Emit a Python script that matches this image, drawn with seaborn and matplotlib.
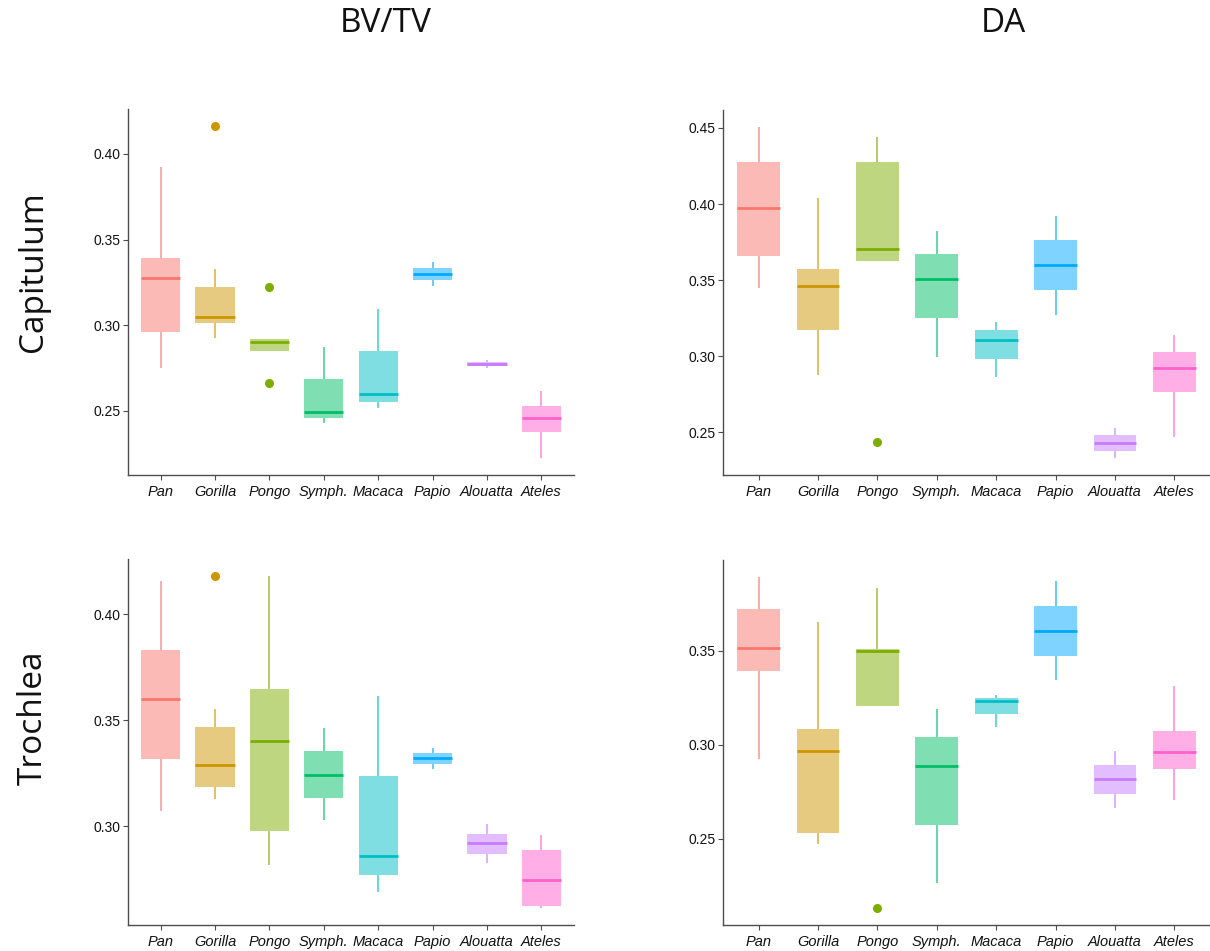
import numpy as np
import pandas as pd
import seaborn as sns
import matplotlib.pyplot as plt
from matplotlib.ticker import MultipleLocator, FormatStrFormatter
from matplotlib.colors import to_rgba

species = ["Pan", "Gorilla", "Pongo", "Symph.", "Macaca", "Papio", "Alouatta", "Ateles"]
colors = ["#F8766D", "#CD9600", "#7CAE00", "#00BE67", "#00BFC4", "#00A9FF", "#C77CFF", "#FF61CC"]

# ---- Capitulum, BV/TV ----
cap_bv_lo  = [0.2749, 0.2924, 0.2852, 0.2432, 0.2519, 0.3229, 0.2751, 0.2223]
cap_bv_q1  = [0.2959, 0.3012, 0.2852, 0.2459, 0.2554, 0.3262, 0.2760, 0.2377]
cap_bv_med = [0.3274, 0.3049, 0.2901, 0.2494, 0.2597, 0.3299, 0.2774, 0.2461]
cap_bv_q3  = [0.3391, 0.3225, 0.2918, 0.2685, 0.2848, 0.3334, 0.2788, 0.2527]
cap_bv_hi  = [0.3926, 0.3329, 0.2918, 0.2873, 0.3095, 0.3368, 0.2797, 0.2617]
cap_bv_out_lo = [None, None, 0.2665, None, None, None, None, None]
cap_bv_out_hi = [None, 0.4165, 0.3222, None, None, None, None, None]

# ---- Capitulum, DA ----
cap_da_lo  = [0.3449, 0.2880, 0.3628, 0.2996, 0.2861, 0.3274, 0.2329, 0.2472]
cap_da_q1  = [0.3661, 0.3171, 0.3628, 0.3250, 0.2983, 0.3433, 0.2378, 0.2764]
cap_da_med = [0.3971, 0.3462, 0.3704, 0.3510, 0.3110, 0.3597, 0.2430, 0.2926]
cap_da_q3  = [0.4279, 0.3575, 0.4277, 0.3669, 0.3171, 0.3761, 0.2480, 0.3025]
cap_da_hi  = [0.4509, 0.4041, 0.4443, 0.3822, 0.3228, 0.3921, 0.2526, 0.3143]
cap_da_out_lo = [None, None, 0.2434, None, None, None, None, None]
cap_da_out_hi = [None, None, None, None, None, None, None, None]

# ---- Trochlea, BV/TV ----
tro_bv_lo  = [0.3071, 0.3128, 0.2814, 0.3027, 0.2688, 0.3269, 0.2825, 0.2611]
tro_bv_q1  = [0.3315, 0.3183, 0.2978, 0.3132, 0.2770, 0.3294, 0.2869, 0.2624]
tro_bv_med = [0.3598, 0.3288, 0.3400, 0.3241, 0.2860, 0.3320, 0.2918, 0.2746]
tro_bv_q3  = [0.3833, 0.3466, 0.3646, 0.3353, 0.3236, 0.3346, 0.2964, 0.2888]
tro_bv_hi  = [0.4156, 0.3551, 0.4183, 0.3463, 0.3613, 0.3370, 0.3009, 0.2959]
tro_bv_out_lo = [None, None, None, None, None, None, None, None]
tro_bv_out_hi = [None, 0.4183, None, None, None, None, None, None]

# ---- Trochlea, DA ----
tro_da_lo  = [0.2926, 0.2473, 0.3206, 0.2264, 0.3096, 0.3342, 0.2665, 0.2704]
tro_da_q1  = [0.3390, 0.2530, 0.3206, 0.2574, 0.3165, 0.3472, 0.2739, 0.2871]
tro_da_med = [0.3514, 0.2968, 0.3498, 0.2887, 0.3234, 0.3606, 0.2817, 0.2959]
tro_da_q3  = [0.3720, 0.3083, 0.3511, 0.3041, 0.3250, 0.3738, 0.2890, 0.3071]
tro_da_hi  = [0.3895, 0.3651, 0.3833, 0.3191, 0.3266, 0.3869, 0.2966, 0.3312]
tro_da_out_lo = [None, None, 0.2128, None, None, None, None, None]
tro_da_out_hi = [None, None, None, None, None, None, None, None]

col_titles = ["BV/TV", "DA"]
row_titles = ["Capitulum", "Trochlea"]


def group_values(lo, q1, med, q3, hi, olo, ohi):
    """Nine observations whose quartiles/whiskers reproduce the read summary."""
    low = ([olo] if olo is not None else []) + [lo]
    low += [q1] * (3 - len(low))
    high = [hi] + ([ohi] if ohi is not None else [])
    high = [q3] * (3 - len(high)) + high
    return low + [med] * 3 + high


def make_frame(lo, q1, med, q3, hi, olo, ohi):
    rows = []
    for i, sp in enumerate(species):
        for v in group_values(lo[i], q1[i], med[i], q3[i], hi[i], olo[i], ohi[i]):
            rows.append({"species": sp, "value": v})
    return pd.DataFrame(rows)


panels = [
    make_frame(cap_bv_lo, cap_bv_q1, cap_bv_med, cap_bv_q3, cap_bv_hi, cap_bv_out_lo, cap_bv_out_hi),
    make_frame(cap_da_lo, cap_da_q1, cap_da_med, cap_da_q3, cap_da_hi, cap_da_out_lo, cap_da_out_hi),
    make_frame(tro_bv_lo, tro_bv_q1, tro_bv_med, tro_bv_q3, tro_bv_hi, tro_bv_out_lo, tro_bv_out_hi),
    make_frame(tro_da_lo, tro_da_q1, tro_da_med, tro_da_q3, tro_da_hi, tro_da_out_lo, tro_da_out_hi),
]

sns.set_theme(style="white")
plt.rcParams["font.family"] = ["Liberation Sans", "DejaVu Sans"]

W, H = 1210, 951
fig = plt.figure(figsize=(W / 100, H / 100), dpi=100)

# axes rectangles in pixels: left, top, right, bottom
rects = [
    (128, 109, 574, 475),
    (723, 110, 1210, 475),
    (128, 559, 574, 925),
    (723, 560, 1210, 925),
]

pal = dict(zip(species, colors))

for df, (l, t, r, b) in zip(panels, rects):
    ax = fig.add_axes([l / W, 1 - b / H, (r - l) / W, (b - t) / H])
    sns.boxplot(data=df, x="species", y="value", hue="species", order=species,
                hue_order=species, palette=pal, legend=False, width=0.72,
                showcaps=False, whis=1.5, linewidth=1.2,
                flierprops=dict(marker="o", markersize=5.5), ax=ax)
    for cont, c in zip(ax.containers, colors):
        for bx in cont.boxes:
            bx.set_facecolor(to_rgba(c, 0.5))
            bx.set_edgecolor(to_rgba(c, 0.0))
            bx.set_linewidth(0)
        for m in cont.medians:
            m.set_color(c)
            m.set_linewidth(2.0)
        for w in cont.whiskers:
            w.set_color(to_rgba(c, 0.7))
            w.set_linewidth(1.2)
        for f in cont.fliers:
            f.set_markerfacecolor(c)
            f.set_markeredgecolor(c)
    ax.set_xlim(-0.6, 7.6)
    ax.set_xlabel("")
    ax.set_ylabel("")
    ax.yaxis.set_major_locator(MultipleLocator(0.05))
    ax.yaxis.set_major_formatter(FormatStrFormatter("%.2f"))
    for s in ["top", "right"]:
        ax.spines[s].set_visible(False)
    for s in ["left", "bottom"]:
        ax.spines[s].set_color("#4d4d4d")
        ax.spines[s].set_linewidth(1.0)
    ax.tick_params(axis="both", which="major", length=3.5, width=0.8,
                   color="#4d4d4d", labelsize=10, labelcolor="#111111",
                   left=True, bottom=True)
    ax.tick_params(axis="y", pad=2)
    ax.tick_params(axis="x", pad=4)
    for lab in ax.get_xticklabels():
        lab.set_fontstyle("italic")
        lab.set_fontsize(10.5)

title_font = ["Open Sans", "DejaVu Sans"]
fig.text(386 / W, 1 - 24 / H, col_titles[0], ha="center", va="center",
         fontsize=24, family=title_font, color="#111111")
fig.text(1003 / W, 1 - 24 / H, col_titles[1], ha="center", va="center",
         fontsize=24, family=title_font, color="#111111")
fig.text(33 / W, 1 - 272 / H, row_titles[0], ha="center", va="center",
         rotation=90, fontsize=24, family=title_font, color="#111111")
fig.text(33 / W, 1 - 718 / H, row_titles[1], ha="center", va="center",
         rotation=90, fontsize=24, family=title_font, color="#111111")

fig.savefig("out.png", dpi=100)
